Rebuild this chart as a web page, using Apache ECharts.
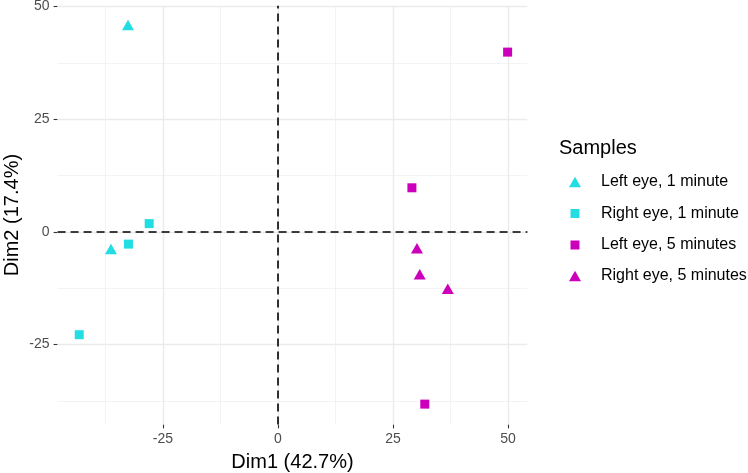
<!DOCTYPE html>
<html><head><meta charset="utf-8">
<script src="https://cdn.jsdelivr.net/npm/echarts@6/dist/echarts.min.js"></script>
<style>html,body{margin:0;padding:0;background:#fff}#c{width:748px;height:473px}</style>
</head><body><div id="c"></div>
<script>
// ---- data ----
const seriesNames = ['Left eye, 1 minute', 'Right eye, 1 minute', 'Left eye, 5 minutes', 'Right eye, 5 minutes'];
const leftEye1Min  = [[-32.6, 45.9], [-36.3, -3.8]];
const rightEye1Min = [[-28.0, 1.85], [-32.5, -2.7], [-43.2, -22.8]];
const leftEye5Min  = [[49.9, 39.9], [29.1, 9.8], [31.9, -38.2]];
const rightEye5Min = [[30.2, -3.6], [30.8, -9.4], [36.9, -12.6]];
const xTicks = [-25, 0, 25, 50];
const yTicks = [-25, 0, 25, 50];
const xMinorGrid = [-37.5, -12.5, 12.5, 37.5];
const yMinorGrid = [-37.5, -12.5, 12.5, 37.5];
const xTitle = 'Dim1 (42.7%)';
const yTitle = 'Dim2 (17.4%)';
const legendTitle = 'Samples';

// ---- styling ----
const FONT = 'Liberation Sans, Arial, sans-serif';
const CYAN = '#22DDE2';
const MAGENTA = '#CC00BB';
const seriesData = [leftEye1Min, rightEye1Min, leftEye5Min, rightEye5Min];
const seriesColor = [CYAN, CYAN, MAGENTA, MAGENTA];
const seriesSymbol = ['triangle', 'rect', 'rect', 'triangle'];
const TRI = [12, 10.5], SQ = 9;
const legendRows = [182, 213.5, 245, 276];

const chart = echarts.init(document.getElementById('c'), null, {renderer: 'canvas'});

const gridSeries = {
  type: 'scatter', data: [], silent: true, z: 1,
  markLine: {
    silent: true, symbol: 'none', label: {show: false}, animation: false, z: 1,
    data: [
      ...xMinorGrid.map(v => ({xAxis: v, lineStyle: {color: '#f0f0f0', width: 0.8, type: 'solid'}})),
      ...yMinorGrid.map(v => ({yAxis: v, lineStyle: {color: '#f0f0f0', width: 0.8, type: 'solid'}})),
      ...xTicks.map(v => ({xAxis: v, lineStyle: {color: '#ebebeb', width: 1.4, type: 'solid'}})),
      ...yTicks.map(v => ({yAxis: v, lineStyle: {color: '#ebebeb', width: 1.4, type: 'solid'}}))
    ]
  }
};
const zeroSeries = {
  type: 'scatter', data: [], silent: true, z: 2,
  markLine: {
    silent: true, symbol: 'none', label: {show: false}, animation: false, z: 2,
    lineStyle: {color: '#000', width: 1.6, type: [8, 5]},
    data: [{xAxis: 0}, {yAxis: 0}]
  }
};

const dataSeries = seriesNames.map((n, i) => ({
  name: n, type: 'scatter', z: 10,
  data: seriesData[i],
  symbol: seriesSymbol[i],
  symbolSize: seriesSymbol[i] === 'triangle' ? TRI : SQ,
  itemStyle: {color: seriesColor[i], opacity: 1},
  emphasis: {disabled: true}
}));

const legends = seriesNames.map((n, i) => {
  const tri = seriesSymbol[i] === 'triangle';
  const w = tri ? TRI[0] : SQ, h = tri ? TRI[1] : SQ;
  return {
    data: [{name: n, icon: seriesSymbol[i]}],
    orient: 'vertical', left: 575 - w / 2, top: legendRows[i] - 10,
    padding: 0, itemWidth: w, itemHeight: h, selectedMode: false,
    textStyle: {fontFamily: FONT, fontSize: 16, color: '#000', lineHeight: 20, padding: [0, 0, 0, 601 - (575 + w / 2) - 5]}
  };
});

const tickStyle = {show: true, length: 4, lineStyle: {color: '#333', width: 1.1}};

chart.setOption({
  animation: false,
  backgroundColor: '#fff',
  title: {text: legendTitle, left: 559, top: 138, padding: 0,
    textStyle: {fontFamily: FONT, fontSize: 20, fontWeight: 'normal', color: '#000'}},
  legend: legends,
  grid: {left: 57.6, right: 220.6, top: 5.7, bottom: 48.6, containLabel: false, outerBoundsMode: 'none'},
  xAxis: {
    type: 'value', min: -47.9, max: 54.2,
    name: xTitle, nameLocation: 'middle', nameGap: 28, nameMoveOverlap: false,
    nameTextStyle: {fontFamily: FONT, fontSize: 20, color: '#000'},
    axisLine: {show: true, onZero: false, lineStyle: {color: 'rgba(0,0,0,0)'}},
    axisTick: Object.assign({}, tickStyle, {customValues: xTicks}),
    axisLabel: {customValues: xTicks, fontFamily: FONT, fontSize: 14, color: '#4d4d4d', margin: 8},
    splitLine: {show: false}
  },
  yAxis: {
    type: 'value', min: -42.7, max: 50.2,
    name: yTitle, nameLocation: 'middle', nameGap: 35, nameMoveOverlap: false,
    nameTextStyle: {fontFamily: FONT, fontSize: 20, color: '#000'},
    axisLine: {show: true, onZero: false, lineStyle: {color: 'rgba(0,0,0,0)'}},
    axisTick: Object.assign({}, tickStyle, {customValues: yTicks}),
    axisLabel: {customValues: yTicks, fontFamily: FONT, fontSize: 14, color: '#4d4d4d', margin: 8},
    splitLine: {show: false}
  },
  series: [gridSeries, zeroSeries, ...dataSeries]
});
</script></body></html>
